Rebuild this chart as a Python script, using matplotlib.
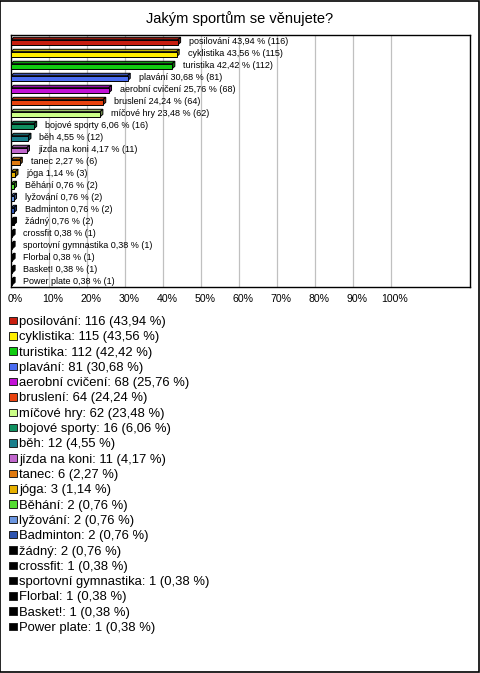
import numpy as np
import matplotlib
matplotlib.use("Agg")
import matplotlib.pyplot as plt
import matplotlib.colors as mcolors
import matplotlib.transforms as mtransforms
from matplotlib.patches import Polygon, Rectangle

plt.rcParams["font.family"] = ["Liberation Sans", "DejaVu Sans"]

# ---------------------------------------------------------------------------
# Data
# ---------------------------------------------------------------------------
categories = ["posilování", "cyklistika", "turistika", "plavání", "aerobní cvičení",
              "bruslení", "míčové hry", "bojové sporty", "běh", "jízda na koni",
              "tanec", "jóga", "Běhání", "lyžování", "Badminton", "žádný",
              "crossfit", "sportovní gymnastika", "Florbal", "Basket!", "Power plate"]
counts = [116, 115, 112, 81, 68, 64, 62, 16, 12, 11, 6, 3, 2, 2, 2, 2, 1, 1, 1, 1, 1]
percents = [43.94, 43.56, 42.42, 30.68, 25.76, 24.24, 23.48, 6.06, 4.55, 4.17,
            2.27, 1.14, 0.76, 0.76, 0.76, 0.76, 0.38, 0.38, 0.38, 0.38, 0.38]
colors = ["#c81e0f", "#ffee00", "#11cc11", "#4a6cf0", "#c211d6", "#e8420f",
          "#ccff88", "#109060", "#1a7f8c", "#c066cc", "#e07a10", "#e6b000",
          "#55dd33", "#6b96e0", "#2f55b0", "#000000", "#000000", "#000000",
          "#000000", "#000000", "#000000"]
x_ticks = [0, 10, 20, 30, 40, 50, 60, 70, 80, 90, 100]
title = "Jakým sportům se věnujete?"


def fmt(v):
    return f"{v:.2f}".replace(".", ",")


def darker(c, f=0.6):
    r, g, b = mcolors.to_rgb(c)
    return (r * f, g * f, b * f)


W, H = 480, 673
fig = plt.figure(figsize=(W / 100, H / 100), dpi=100)

# outer frame
fig.patches.append(Rectangle((0.001, 0.001), 0.997, 0.997, transform=fig.transFigure,
                             fill=False, edgecolor="black", linewidth=1.2))

fig.text(240 / W, 1 - 19 / H, title, ha="center", va="center", fontsize=10.5)

# plot area
left, right, top, bottom = 11, 470, 35, 287
ax = fig.add_axes([left / W, 1 - bottom / H, (right - left) / W, (bottom - top) / H])
n = len(categories)
ax.set_xlim(0, 120.8)
ax.set_ylim(n - 0.5, -0.5)
ax.set_yticks([])
ax.set_xticks(x_ticks)
ax.set_xticklabels([f"{t}%" for t in x_ticks], fontsize=7.6)
ax.tick_params(axis="x", length=0, pad=5)
shift = mtransforms.ScaledTranslation(4 / 100, 0, fig.dpi_scale_trans)
for lab in ax.get_xticklabels():
    lab.set_transform(lab.get_transform() + shift)
for t in x_ticks[1:]:
    ax.axvline(t, color="#c0c0c0", linewidth=0.9, zorder=0)
for s in ax.spines.values():
    s.set_linewidth(1.0)

# 3D-looking bars
h = 0.42
dx, dy = 0.7, 0.2
for i, (v, c) in enumerate(zip(percents, colors)):
    y0, y1 = i - h / 2 + 0.1, i + h / 2 + 0.1
    top_face = Polygon([(0, y0), (v, y0), (v + dx, y0 - dy), (dx, y0 - dy)],
                       closed=True, facecolor=darker(c, 0.75), edgecolor="black",
                       linewidth=0.7, zorder=2)
    side_face = Polygon([(v, y0), (v, y1), (v + dx, y1 - dy), (v + dx, y0 - dy)],
                        closed=True, facecolor=darker(c, 0.55), edgecolor="black",
                        linewidth=0.7, zorder=2)
    front = Rectangle((0, y0), v, y1 - y0, facecolor=c, edgecolor="black",
                      linewidth=0.7, zorder=3)
    ax.add_patch(top_face)
    ax.add_patch(side_face)
    ax.add_patch(front)
    ax.annotate(f"{categories[i]} {fmt(v)} % ({counts[i]})", xy=(v + dx, i),
                xytext=(6, 0), textcoords="offset points", ha="left", va="center",
                fontsize=6.5, zorder=4)

# legend below the chart
y_first, step = 322, 15.3
for i, (name, cnt, v, c) in enumerate(zip(categories, counts, percents, colors)):
    yc = y_first + i * step
    fig.patches.append(Rectangle((9 / W, 1 - (yc + 2.2) / H), 7.5 / W, 7.5 / H,
                                 transform=fig.transFigure, facecolor=c,
                                 edgecolor="#202020", linewidth=0.7))
    fig.text(19 / W, 1 - yc / H, f"{name}: {cnt} ({fmt(v)} %)", ha="left",
             va="center", fontsize=9.4)

fig.savefig("out.png", dpi=100)
